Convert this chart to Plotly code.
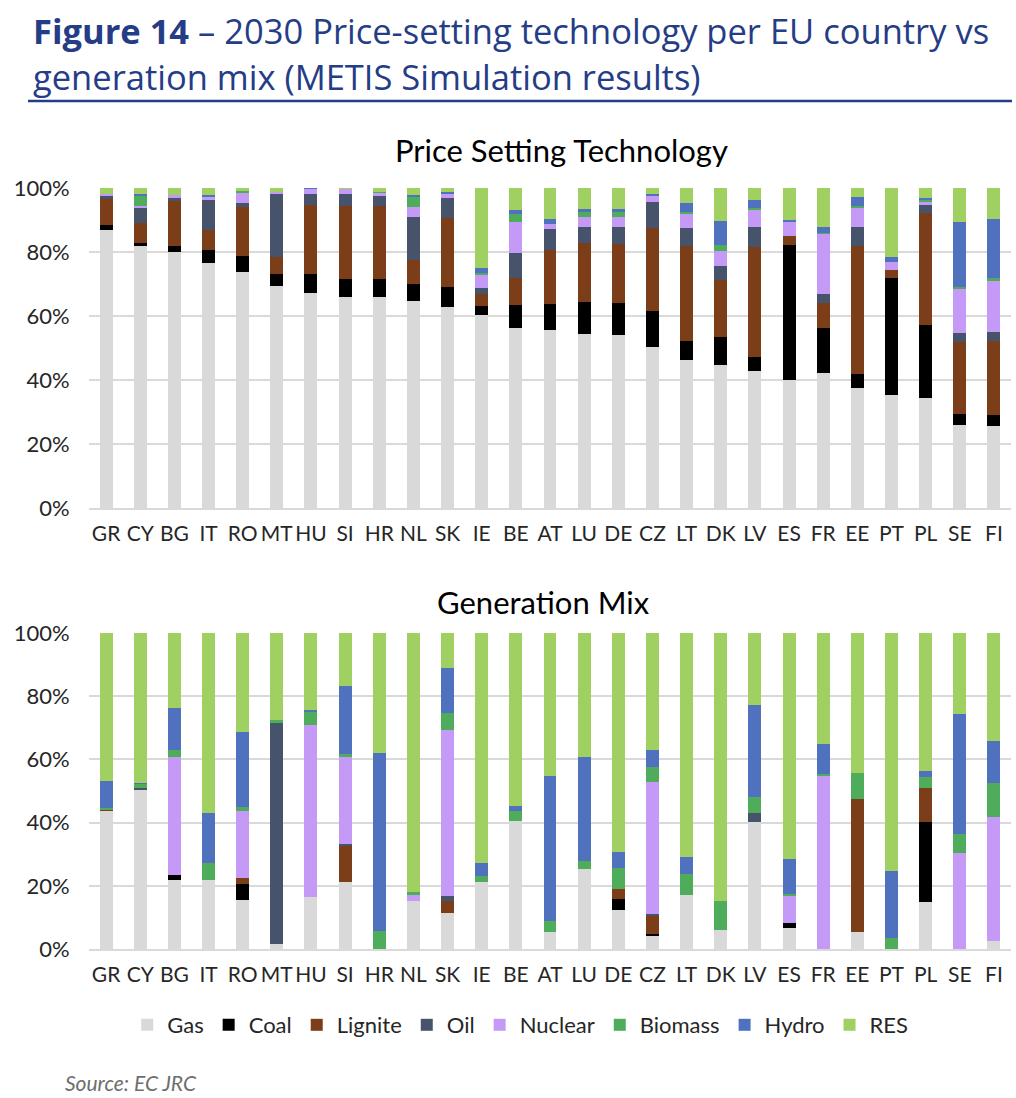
import plotly.graph_objects as go

countries = ["GR", "CY", "BG", "IT", "RO", "MT", "HU", "SI", "HR", "NL", "SK", "IE", "BE", "AT",
             "LU", "DE", "CZ", "LT", "DK", "LV", "ES", "FR", "EE", "PT", "PL", "SE", "FI"]
techs = ["Gas", "Coal", "Lignite", "Oil", "Nuclear", "Biomass", "Hydro", "RES"]

# Price setting technology (% of hours)
ps_gas = [87.0, 81.8, 80.0, 76.5, 73.6, 69.4, 67.3, 65.9, 65.9, 64.8, 62.7, 60.2, 56.1, 55.5, 54.5, 54.1, 50.2, 46.35, 44.6, 42.8, 40.0, 42.1, 37.5, 35.4, 34.4, 25.8, 25.5]
ps_coal = [1.5, 1.0, 1.8, 4.2, 5.3, 3.8, 5.9, 5.8, 5.8, 5.3, 6.4, 2.8, 7.3, 8.25, 10.0, 10.0, 11.4, 5.75, 8.9, 4.3, 42.1, 14.15, 4.3, 36.5, 22.7, 3.7, 3.6]
ps_lignite = [8.1, 6.3, 14.0, 6.3, 15.3, 5.2, 21.6, 22.6, 22.6, 7.5, 21.5, 4.0, 8.6, 16.95, 18.3, 18.4, 25.9, 29.7, 17.6, 34.4, 2.9, 7.85, 40.0, 2.6, 35.1, 22.3, 23.1]
ps_oil = [1.1, 4.65, 1.2, 9.25, 1.1, 19.8, 3.3, 3.8, 3.1, 13.3, 6.4, 1.75, 7.7, 6.5, 5.0, 5.3, 8.1, 5.7, 4.6, 6.3, 0, 2.9, 6.0, 0, 2.4, 2.8, 2.8]
ps_nuclear = [0.5, 0.75, 0.9, 1.15, 3.3, 0.4, 1.7, 1.7, 1.2, 3.3, 1.4, 4.15, 9.6, 1.7, 3.2, 3.1, 1.8, 4.6, 4.6, 5.6, 4.6, 18.7, 6.1, 2.4, 1.2, 13.8, 16.0]
ps_biomass = [0, 3.2, 0, 0, 0.6, 0, 0, 0, 0.3, 3.2, 0, 0.4, 2.5, 0, 1.8, 1.9, 0, 0.3, 1.8, 0.5, 0, 0.3, 0.6, 0, 0.6, 0.7, 0.9]
ps_hydro = [0, 0.3, 0, 0.3, 0, 0, 0.2, 0, 0, 0.5, 0.5, 1.7, 1.3, 1.4, 0.6, 0.6, 0.7, 2.9, 7.5, 2.5, 0.4, 1.8, 2.6, 1.6, 0.4, 20.2, 18.4]
ps_res = [1.8, 2.0, 2.1, 2.3, 0.8, 1.4, 0, 0.2, 1.1, 2.1, 1.1, 25.0, 6.9, 9.7, 6.6, 6.6, 1.9, 4.7, 10.4, 3.6, 10.0, 12.2, 2.9, 21.5, 3.2, 10.7, 9.7]

# Generation mix (% of generation)
gm_gas = [43.8, 50.2, 21.7, 21.7, 15.6, 1.7, 16.35, 21.1, 0.1, 15.3, 11.4, 21.1, 40.6, 5.3, 25.3, 12.4, 4.2, 17.0, 5.9, 40.3, 6.6, 0, 5.3, 0, 15.0, 0, 2.4]
gm_coal = [0, 0, 1.6, 0, 5.1, 0, 0, 0, 0, 0, 0, 0, 0, 0, 0, 3.5, 0.65, 0, 0, 0, 1.7, 0, 0, 0, 25.3, 0, 0]
gm_lignite = [0.5, 0, 0, 0, 1.8, 0, 0, 11.4, 0, 0, 3.9, 0, 0, 0, 0, 3.2, 5.45, 0, 0, 0, 0, 0, 42.3, 0, 10.8, 0, 0]
gm_oil = [0, 0.7, 0, 0, 0, 69.8, 0, 0.8, 0, 0, 1.4, 0, 0, 0, 0, 0, 0.8, 0, 0, 2.7, 0, 0, 0, 0, 0, 0, 0]
gm_nuclear = [0, 0, 37.35, 0, 21.2, 0, 54.65, 27.35, 0, 1.7, 52.7, 0, 0, 0, 0, 0, 41.6, 0, 0, 0, 8.4, 54.6, 0, 0, 0, 30.5, 39.3]
gm_biomass = [0.3, 1.4, 2.45, 5.6, 1.3, 1.1, 4.2, 1.15, 5.5, 1.0, 5.2, 2.1, 3.1, 3.7, 2.4, 6.6, 4.9, 6.8, 9.4, 5.2, 0.8, 0.9, 8.0, 3.5, 3.4, 6.0, 10.7]
gm_hydro = [8.5, 0.2, 13.3, 15.7, 23.7, 0, 0.5, 21.5, 56.4, 0, 14.3, 3.9, 1.4, 45.6, 33.2, 4.9, 5.3, 5.3, 0, 29.1, 11.0, 9.4, 0, 21.2, 1.7, 37.8, 13.5]
gm_res = [46.9, 47.5, 23.6, 57.0, 31.3, 27.4, 24.3, 16.7, 38.0, 82.0, 11.1, 72.9, 54.9, 45.4, 39.1, 69.4, 37.1, 70.9, 84.7, 22.7, 71.5, 35.1, 44.4, 75.3, 43.8, 25.7, 34.1]

colors = ["#D9D9D9", "#000000", "#7B3E19", "#46536A", "#C59AF7", "#4EAC5B", "#4F71BE", "#A0CF62"]

ps_series = [ps_gas, ps_coal, ps_lignite, ps_oil, ps_nuclear, ps_biomass, ps_hydro, ps_res]
gm_series = [gm_gas, gm_coal, gm_lignite, gm_oil, gm_nuclear, gm_biomass, gm_hydro, gm_res]

W, H = 1016, 1098
def py(p):
    return 1 - p / H
def px(p):
    return p / W

fig = go.Figure()
for name, col, vals in zip(techs, colors, ps_series):
    fig.add_trace(go.Bar(x=countries, y=vals, name=name, marker_color=col,
                         marker_line_width=0, xaxis="x", yaxis="y", showlegend=True,
                         legendgroup=name))
for name, col, vals in zip(techs, colors, gm_series):
    fig.add_trace(go.Bar(x=countries, y=vals, name=name, marker_color=col,
                         marker_line_width=0, xaxis="x2", yaxis="y2", showlegend=False,
                         legendgroup=name))

FONT = "Lato"
tickfont = dict(family=FONT, size=21, color="#262626")
xdom = [px(89), px(1011)]
axis_y = dict(range=[0, 100], dtick=20, ticksuffix="%", showgrid=True, gridcolor="#D9D9D9",
              gridwidth=1.5, zeroline=False, tickfont=dict(family=FONT, size=22, color="#262626"),
              ticks="outside", ticklen=14,
              tickcolor="rgba(0,0,0,0)", showline=False, fixedrange=True, automargin=False)
axis_x = dict(showgrid=False, showline=True, linecolor="#D9D9D9", linewidth=1.5,
              tickfont=tickfont, tickangle=0, ticks="outside", ticklen=6, tickcolor="rgba(0,0,0,0)",
              categoryorder="array", categoryarray=countries, automargin=False)

fig.update_layout(
    width=W, height=H,
    margin=dict(l=0, r=0, t=0, b=0, autoexpand=False),
    paper_bgcolor="white", plot_bgcolor="white",
    barmode="stack", bargap=0.62,
    font=dict(family=FONT, color="#262626"),
    xaxis=dict(domain=xdom, anchor="y", **axis_x),
    yaxis=dict(domain=[py(508), py(188)], anchor="x", **axis_y),
    xaxis2=dict(domain=xdom, anchor="y2", **axis_x),
    yaxis2=dict(domain=[py(949), py(633)], anchor="x2", **axis_y),
    legend=dict(orientation="h", x=0.512, xanchor="center", y=py(1025), yanchor="middle",
                font=dict(family=FONT, size=22, color="#262626"), itemwidth=30,
                traceorder="normal", tracegroupgap=0),
    showlegend=True,
)

title_color = "#253C86"
fig.add_annotation(x=px(31), y=py(31), xref="paper", yref="paper", xanchor="left", yanchor="middle",
                   text="<b>Figure 14</b> – 2030 Price-setting technology per EU country vs",
                   showarrow=False, font=dict(family="Open Sans", size=34.5, color=title_color))
fig.add_annotation(x=px(31), y=py(76), xref="paper", yref="paper", xanchor="left", yanchor="middle",
                   text="generation mix (METIS Simulation results)",
                   showarrow=False, font=dict(family="Open Sans", size=34.5, color=title_color))
fig.add_shape(type="line", xref="paper", yref="paper", x0=px(28), x1=px(1012), y0=py(101), y1=py(101),
              line=dict(color=title_color, width=2.5))

fig.add_annotation(x=px(561), y=py(150), xref="paper", yref="paper", xanchor="center", yanchor="middle",
                   text="Price Setting Technology", showarrow=False,
                   font=dict(family=FONT, size=31, color="#000000"))
fig.add_annotation(x=px(543), y=py(602), xref="paper", yref="paper", xanchor="center", yanchor="middle",
                   text="Generation Mix", showarrow=False,
                   font=dict(family=FONT, size=31, color="#000000"))
fig.add_annotation(x=px(63), y=py(1082), xref="paper", yref="paper", xanchor="left", yanchor="middle",
                   text="<i>Source: EC JRC</i>", showarrow=False,
                   font=dict(family=FONT, size=21, color="#6E6E6E"))

fig.write_html("out.html")
